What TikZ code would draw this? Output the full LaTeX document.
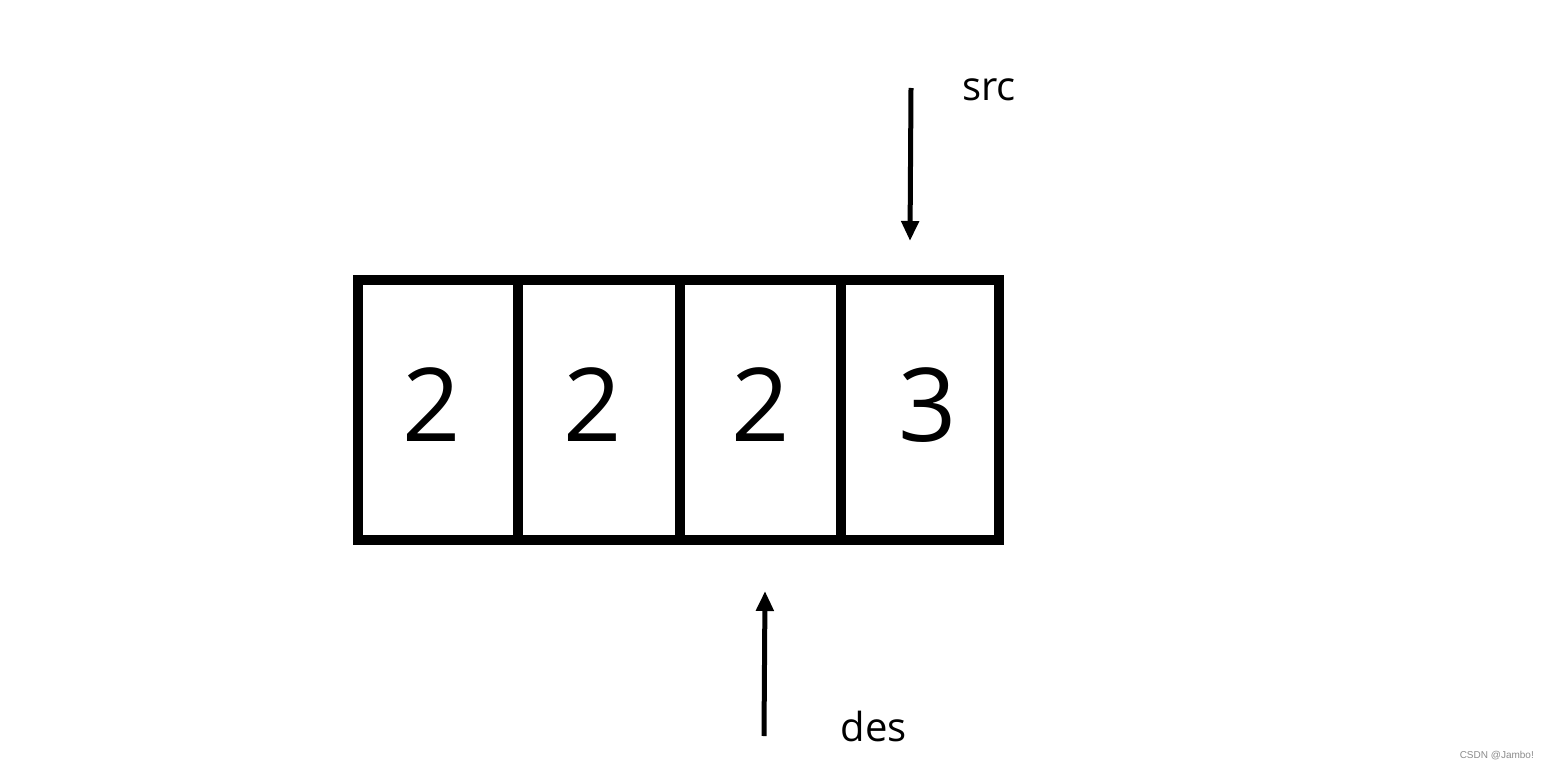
\documentclass[tikz,border=0pt]{standalone}
\usepackage{fontspec}
\setmainfont{Open Sans}
\newfontfamily\wmfont{Liberation Sans}
\usetikzlibrary{arrows.meta}
\begin{document}
\begin{tikzpicture}[x=1pt,y=-1pt,
  cellline/.style={line width=10pt},
  digit/.style={font=\fontsize{102}{102}\selectfont, inner sep=0pt},
  lbl/.style={font=\fontsize{40}{40}\selectfont, inner sep=0pt},
  ptr/.style={line width=5pt, -{Triangle[length=20pt,width=17pt]}}]
\useasboundingbox (0,0) rectangle (1549,770);
\fill[white] (0,0) rectangle (1549,770);
% cells
\draw[cellline] (358,280) rectangle (999,540);
\draw[cellline] (518,280) -- (518,540);
\draw[cellline] (680,280) -- (680,540);
\draw[cellline] (841,280) -- (841,540);
\node[digit] (c1) at (432,405) {2};
\node[digit] (c2) at (593,405) {2};
\node[digit] (c3) at (761,405) {2};
\node[digit] (c4) at (928,405) {3};
% pointers
\node[lbl, anchor=base] (src) at (989,101) {src};
\node[lbl, anchor=base] (des) at (874,741) {des};
\coordinate (s0) at (911,88);
\coordinate (s1) at (910,241);
\coordinate (d0) at (764,736);
\coordinate (d1) at (765,591);
\draw[ptr] (s0) -- (s1);
\draw[ptr] (d0) -- (d1);
\node[font=\wmfont\fontsize{10}{10}\selectfont, text=black!45, anchor=east, inner sep=0pt] (wm) at (1534,756) {CSDN @Jambo!};
\end{tikzpicture}
\end{document}
